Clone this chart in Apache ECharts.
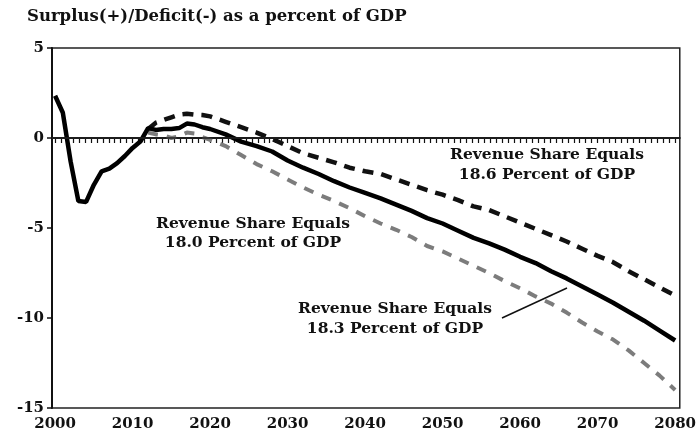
<!DOCTYPE html>
<html>
<head>
<meta charset="utf-8">
<script src="https://cdn.jsdelivr.net/npm/echarts@6/dist/echarts.min.js"></script>
<style>
  html, body { margin: 0; padding: 0; background: #fff; }
  #chart { width: 699px; height: 439px; }
</style>
</head>
<body>
<div id="chart"></div>
<script>
  // solid line: history + revenue at 18.3 percent of GDP
  var midYears = [2000, 2001, 2002, 2003, 2004, 2005, 2006, 2007, 2008, 2009, 2010, 2011, 2012, 2013, 2014, 2015, 2016, 2017, 2018, 2019, 2020,
    2022, 2024, 2026, 2028, 2030, 2032, 2034, 2036, 2038, 2040, 2042, 2044, 2046, 2048, 2050,
    2052, 2054, 2056, 2058, 2060, 2062, 2064, 2066, 2068, 2070, 2072, 2074, 2076, 2078, 2080];
  var midValues = [2.35, 1.4, -1.3, -3.5, -3.55, -2.6, -1.85, -1.7, -1.4, -1.0, -0.55, -0.2, 0.55, 0.45, 0.5, 0.5, 0.55, 0.8, 0.75, 0.6, 0.5,
    0.2, -0.2, -0.45, -0.75, -1.25, -1.65, -2.0, -2.4, -2.75, -3.05, -3.35, -3.7, -4.05, -4.45, -4.75,
    -5.15, -5.55, -5.85, -6.2, -6.6, -6.95, -7.4, -7.8, -8.25, -8.7, -9.15, -9.65, -10.15, -10.7, -11.25];

  // projection years shared by the two dashed lines
  var projYears = [2012, 2013, 2014, 2015, 2016, 2017, 2018, 2019, 2020,
    2022, 2024, 2026, 2028, 2030, 2032, 2034, 2036, 2038, 2040, 2042, 2044, 2046, 2048, 2050,
    2052, 2054, 2056, 2058, 2060, 2062, 2064, 2066, 2068, 2070, 2072, 2074, 2076, 2078, 2080];
  // revenue at 18.6 percent of GDP (black dashed)
  var highValues = [0.5, 0.85, 1.0, 1.15, 1.3, 1.35, 1.3, 1.28, 1.2,
    0.9, 0.6, 0.3, -0.05, -0.45, -0.85, -1.1, -1.35, -1.65, -1.85, -2.0, -2.3, -2.6, -2.9, -3.15,
    -3.45, -3.8, -4.0, -4.35, -4.7, -5.05, -5.4, -5.75, -6.15, -6.55, -6.9, -7.4, -7.85, -8.3, -8.75];
  // revenue at 18.0 percent of GDP (grey dashed)
  var lowValues = [0.3, 0.2, 0.15, 0.0, 0.1, 0.3, 0.25, 0.05, -0.1,
    -0.45, -0.95, -1.45, -1.85, -2.3, -2.75, -3.15, -3.5, -3.9, -4.35, -4.75, -5.1, -5.5, -6.0, -6.3,
    -6.7, -7.1, -7.5, -7.95, -8.35, -8.8, -9.2, -9.7, -10.25, -10.75, -11.2, -11.8, -12.5, -13.2, -14.0];

  var xLabels = [2000, 2010, 2020, 2030, 2040, 2050, 2060, 2070, 2080];

  // small ticks along the year axis, 13 to a decade
  var xTicks = [];
  for (var t = 0; t <= 8 * 13; t++) xTicks.push(2000 + t * 10 / 13);

  function pairs(xs, ys) {
    return xs.map(function (x, i) { return [x, ys[i]]; });
  }

  var font = '"DejaVu Serif", serif';
  var chart = echarts.init(document.getElementById('chart'), null, { renderer: 'canvas' });

  var option = {
    animation: false,
    backgroundColor: '#fff',
    grid: {
      left: 52,
      right: 19,
      top: 48,
      bottom: 31,
      show: true,
      borderColor: '#222',
      borderWidth: 1.5,
      backgroundColor: 'transparent'
    },
    xAxis: {
      type: 'value',
      min: 1999.6,
      max: 2080.6,
      axisLine: { show: true, lineStyle: { color: '#111', width: 2 } },
      axisTick: { show: true, customValues: xTicks, length: 5, lineStyle: { color: '#111', width: 1.2 } },
      axisLabel: {
        customValues: xLabels,
        formatter: function (v) { return String(Math.round(v)); },
        color: '#111',
        fontFamily: font,
        fontWeight: 'bold',
        fontSize: 15,
        margin: 9
      },
      splitLine: { show: false }
    },
    yAxis: {
      type: 'value',
      min: -15,
      max: 5,
      interval: 5,
      axisLine: { show: true, lineStyle: { color: '#111', width: 2 } },
      axisTick: { show: true, length: 5, lineStyle: { color: '#111', width: 1.5 } },
      axisLabel: {
        color: '#111',
        fontFamily: font,
        fontWeight: 'bold',
        fontSize: 15,
        margin: 8
      },
      splitLine: { show: false }
    },
    series: [{
        name: '18.0',
        type: 'line',
        data: pairs(projYears, lowValues),
        showSymbol: false,
        lineStyle: { color: '#7c7c7c', width: 4, type: [10, 9] },
        z: 2
      },
      {
        name: '18.6',
        type: 'line',
        data: pairs(projYears, highValues),
        showSymbol: false,
        lineStyle: { color: '#111', width: 4.5, type: [11, 8] },
        z: 3
      },
      {
        name: '18.3',
        type: 'line',
        data: pairs(midYears, midValues),
        showSymbol: false,
        lineStyle: { color: '#000', width: 4.5 },
        z: 4,
        markLine: {
          silent: true,
          symbol: 'none',
          label: { show: false },
          lineStyle: { color: '#222', width: 1.5, type: 'solid' },
          data: [{ yAxis: 0 }]
        }
      }
    ],
    graphic: [{
        type: 'text',
        left: 27,
        top: 8,
        style: {
          text: 'Surplus(+)/Deficit(-) as a percent of GDP',
          font: 'bold 16.5px ' + font,
          fill: '#111'
        }
      },
      {
        type: 'text',
        x: 547,
        y: 145,
        style: {
          text: 'Revenue Share Equals\n18.6 Percent of GDP',
          font: 'bold 15.5px ' + font,
          fill: '#111',
          align: 'center',
          lineHeight: 20
        }
      },
      {
        type: 'text',
        x: 253,
        y: 214,
        style: {
          text: 'Revenue Share Equals\n18.0 Percent of GDP',
          font: 'bold 15.5px ' + font,
          fill: '#111',
          align: 'center',
          lineHeight: 19
        }
      },
      {
        type: 'text',
        x: 395,
        y: 299,
        style: {
          text: 'Revenue Share Equals\n18.3 Percent of GDP',
          font: 'bold 15.5px ' + font,
          fill: '#111',
          align: 'center',
          lineHeight: 20
        }
      },
      {
        type: 'line',
        shape: { x1: 502, y1: 318, x2: 567, y2: 288 },
        style: { stroke: '#111', lineWidth: 1.5 }
      }
    ]
  };

  chart.setOption(option);
</script>
</body>
</html>
